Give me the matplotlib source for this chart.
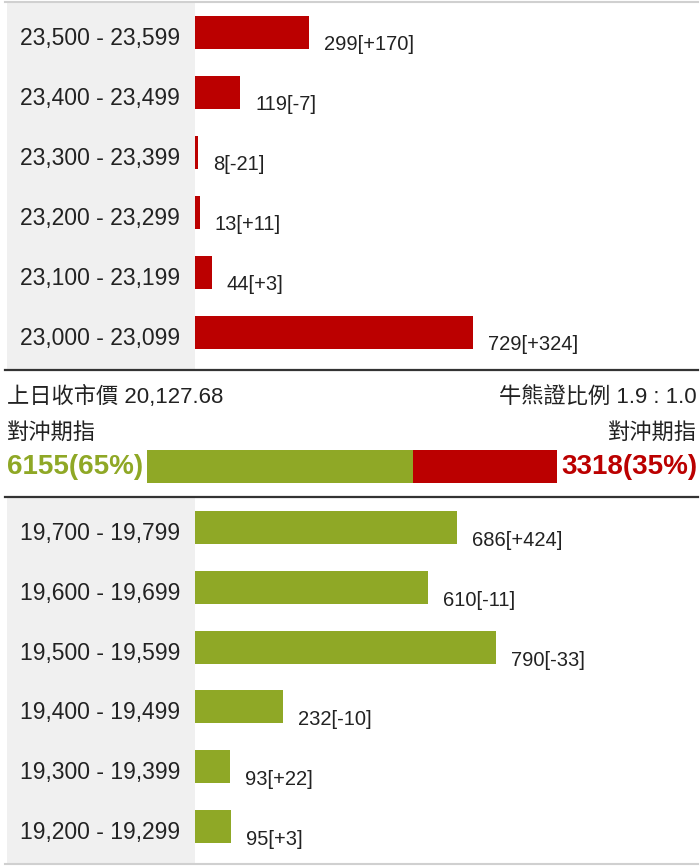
import matplotlib
matplotlib.use("Agg")
import matplotlib.pyplot as plt
from matplotlib.patches import Rectangle
from matplotlib.lines import Line2D

plt.rcParams['font.family'] = ['Liberation Sans', 'Noto Sans CJK TC', 'DejaVu Sans']

# bull (upper) ranges
top_ranges = ["23,500 - 23,599", "23,400 - 23,499", "23,300 - 23,399",
              "23,200 - 23,299", "23,100 - 23,199", "23,000 - 23,099"]
top_values = [299, 119, 8, 13, 44, 729]
top_changes = ["+170", "-7", "-21", "+11", "+3", "+324"]

# bear (lower) ranges
bottom_ranges = ["19,700 - 19,799", "19,600 - 19,699", "19,500 - 19,599",
                 "19,400 - 19,499", "19,300 - 19,399", "19,200 - 19,299"]
bottom_values = [686, 610, 790, 232, 93, 95]
bottom_changes = ["+424", "-11", "-33", "-10", "+22", "+3"]

prev_close = "20,127.68"
ratio_text = "1.9 : 1.0"
hedge_bull = 6155
hedge_bear = 3318

RED = "#BB0000"
GREEN = "#8FA826"
GREY_BG = "#F0F0F0"
TXT = "#222222"

W, H = 700, 866
fig = plt.figure(figsize=(W / 100, H / 100), dpi=100)
fig.patch.set_facecolor("white")


def fx(x):
    return x / W


def fy(y):
    return 1 - y / H


# grey label columns and separators
fig.patches.append(Rectangle((fx(7), fy(370)), fx(188), 368 / H, transform=fig.transFigure,
                             facecolor=GREY_BG, edgecolor="none", zorder=-1))
fig.patches.append(Rectangle((fx(7), fy(864)), fx(188), 366 / H, transform=fig.transFigure,
                             facecolor=GREY_BG, edgecolor="none", zorder=-1))
for y, c, lw in [(2, "#D0D0D0", 1.5), (370, "#333333", 1.6), (497, "#333333", 1.6), (864, "#D0D0D0", 1.5)]:
    fig.lines.append(Line2D([fx(5), fx(698)], [fy(y), fy(y)], transform=fig.transFigure,
                            color=c, lw=lw))

xmax = 503 / (278 / 729)  # same value scale for both panels


def panel(top_px, bottom_px, ranges, values, changes, color):
    ax = fig.add_axes([fx(195), fy(bottom_px), fx(698 - 195), (bottom_px - top_px) / H])
    ax.set_xlim(0, xmax)
    ax.set_ylim(len(values) - 0.5, -0.5)
    ax.axis("off")
    ys = range(len(values))
    ax.barh(ys, values, height=0.55, color=color, edgecolor="none")
    for i, (v, c) in enumerate(zip(values, changes)):
        ax.annotate(f"{v}[{c}]", (v, i), xytext=(15, -13), textcoords="offset pixels",
                    ha="left", va="center", fontsize=14.5, color=TXT)
        ax.annotate(ranges[i], (0, i), xytext=(-95, -6), textcoords="offset pixels",
                    ha="center", va="center", fontsize=16.5, color=TXT, annotation_clip=False)
    return ax


panel(2, 362, top_ranges, top_values, top_changes, RED)
panel(498, 856, bottom_ranges, bottom_values, bottom_changes, GREEN)

# middle summary
fig.text(fx(7), fy(397), "上日收市價 " + prev_close, fontsize=16, color=TXT, va="center", ha="left")
fig.text(fx(697), fy(397), "牛熊證比例 " + ratio_text, fontsize=16, color=TXT, va="center", ha="right")
fig.text(fx(7), fy(433), "對沖期指", fontsize=16, color=TXT, va="center", ha="left")
fig.text(fx(697), fy(433), "對沖期指", fontsize=16, color=TXT, va="center", ha="right")

total = hedge_bull + hedge_bear
axm = fig.add_axes([fx(147), fy(483), fx(410), 33 / H])
axm.barh([0], [hedge_bull], height=1, color=GREEN, edgecolor="none")
axm.barh([0], [hedge_bear], left=[hedge_bull], height=1, color=RED, edgecolor="none")
axm.set_xlim(0, total)
axm.set_ylim(-0.5, 0.5)
axm.axis("off")

fig.text(fx(7), fy(467), f"{hedge_bull}({round(hedge_bull / total * 100)}%)", fontsize=20,
         fontweight="bold", color=GREEN, va="center", ha="left")
fig.text(fx(697), fy(467), f"{hedge_bear}({round(hedge_bear / total * 100)}%)", fontsize=20,
         fontweight="bold", color=RED, va="center", ha="right")

fig.savefig("out.png", dpi=100)
